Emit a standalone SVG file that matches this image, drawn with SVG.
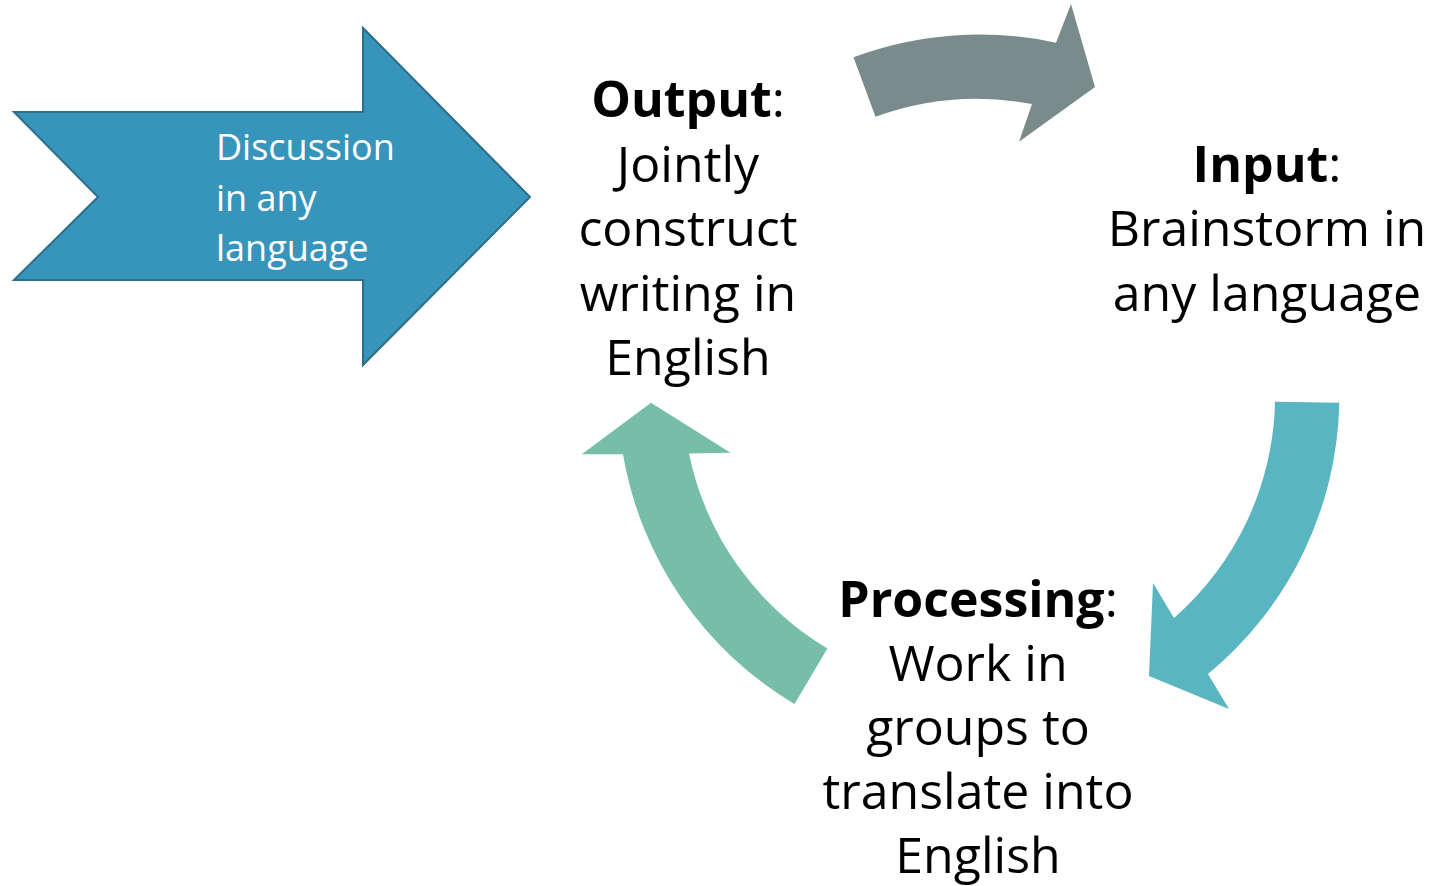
<svg xmlns="http://www.w3.org/2000/svg" width="1431" height="886" viewBox="0 0 1431 886">
  <style>
    .label { font-family: "Open Sans", "Noto Sans", "Liberation Sans", sans-serif; font-size: 50px; fill: #000000; text-anchor: middle; }
    .label .head { font-weight: bold; }
    .banner { fill: #3795BB; stroke: #2B6F8B; stroke-width: 2; stroke-linejoin: miter; }
    .banner-text { font-family: "Open Sans", "Noto Sans", "Liberation Sans", sans-serif; font-size: 36px; fill: #FFFFFF; }
    .cycle { stroke: none; }
  </style>

  <rect x="0" y="0" width="1431" height="886" fill="#FFFFFF"/>

  <!-- cycle arrows around a common centre (978.5, 393.5) -->
  <g id="connectors">
    <path id="arrow-output-input" class="cycle" fill="#7A8B8C"
          d="M 853.5 57.3 A 361 361 0 0 1 1056 42.7 L 1071 4 L 1095 87 L 1019 141.7 L 1032 104 A 296 296 0 0 0 875.5 116.7 Z"/>
    <path id="arrow-input-processing" class="cycle" fill="#59B6C1"
          d="M 1339.3 402.7 A 361 361 0 0 1 1208 674 L 1229 709 L 1149 676 L 1153 583 L 1174 618 A 296 296 0 0 0 1275 401.7 Z"/>
    <path id="arrow-processing-output" class="cycle" fill="#76BEA8"
          d="M 794.5 704 A 361 361 0 0 1 623 454.3 L 581.8 454.3 L 651 402.7 L 730.5 452.7 L 689 453.4 A 296 296 0 0 0 827.4 648.5 Z"/>
  </g>

  <!-- entry banner -->
  <g id="node-discussion">
    <polygon class="banner" points="14,112 363,112 363,28 530,197 363,365 363,280 14,280 98,197"/>
    <text class="banner-text" x="216" y="160">Discussion</text>
    <text class="banner-text" x="216" y="211">in any</text>
    <text class="banner-text" x="216" y="261">language</text>
  </g>

  <g id="node-output">
    <text class="label" x="688" y="117"><tspan class="head">Output</tspan>:</text>
    <text class="label" x="688" y="182">Jointly</text>
    <text class="label" x="688" y="246">construct</text>
    <text class="label" x="688" y="311">writing in</text>
    <text class="label" x="688" y="375">English</text>
  </g>

  <g id="node-input">
    <text class="label" x="1267" y="182"><tspan class="head">Input</tspan>:</text>
    <text class="label" x="1267" y="246">Brainstorm in</text>
    <text class="label" x="1267" y="311">any language</text>
  </g>

  <g id="node-processing">
    <text class="label" x="978" y="617"><tspan class="head">Processing</tspan>:</text>
    <text class="label" x="978" y="681">Work in</text>
    <text class="label" x="978" y="745">groups to</text>
    <text class="label" x="978" y="809">translate into</text>
    <text class="label" x="978" y="873">English</text>
  </g>
</svg>
